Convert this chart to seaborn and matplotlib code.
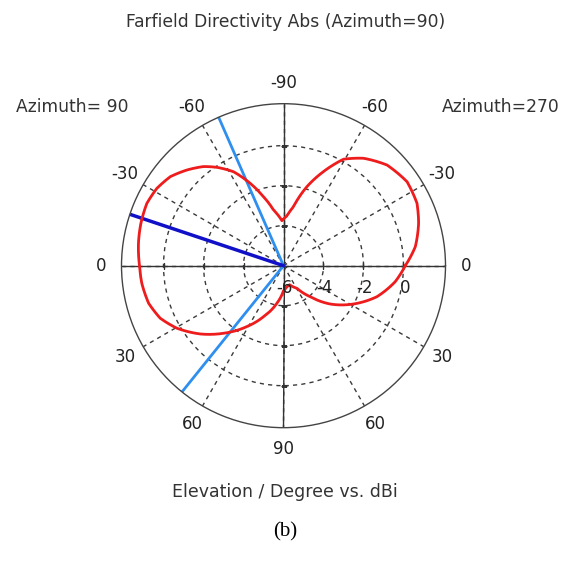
"""
Farfield directivity (elevation cut) as a polar plot.
"""
import numpy as np
import matplotlib
matplotlib.use("Agg")
import matplotlib.pyplot as plt
import seaborn as sns

# pattern: polar angle (deg) and directivity (dBi)
angle_deg = [0, 8.2, 17.4, 25.1, 34.2, 44.2, 53.3, 60.6, 67, 73.5, 80.4,
             86, 92, 100.2, 106.2, 112, 118, 124.1, 128.9, 135.3, 141.8,
             148.6, 155.5, 163.4, 171.2, 180, 187.1, 195.6, 203.1, 210.4,
             219.4, 228.4, 239, 248.6, 260, 270, 279, 287.7, 300.7, 310.7,
             320.6, 331.3, 341.6, 351.8, 360]
gain_dbi = [0.09, 0.66, 1.08, 1.37, 1.47, 1.22, 0.70, 0.11, -0.89, -1.88,
            -3.01, -3.5, -3.75, -3.17, -2.41, -1.56, -0.68, -0.06, 0.37,
            0.80, 1.20, 1.42, 1.51, 1.44, 1.34, 1.20, 1.14, 1.00, 0.70, 0.18,
            -0.62, -1.48, -2.45, -3.26, -4.09, -4.75, -4.93, -5.0, -4.69,
            -3.96, -2.98, -2.01, -1.08, -0.36, 0.09]

main_lobe_deg = 161.5
beam_edges_deg = [113.6, 231.2]

ring_values = [-6, -4, -2, 0]
r_min, r_max = -6, 2.1
theta_ticks = [0, 30, 60, 90, 120, 150, 180, 210, 240, 270, 300, 330]
theta_labels = ["0", "-30", "-60", "-90", "-60", "-30", "0",
                "30", "60", "90", "60", "30"]

sns.set_style("white")
plt.rcParams["font.family"] = ["DejaVu Sans"]
text_col = "#333333"

fig = plt.figure(figsize=(5.67, 5.62), dpi=100)
ax = fig.add_axes([0.2143, 0.2390, 0.5714, 0.5765], projection="polar")
ax.set_ylim(r_min, r_max)

# grid: dashed rings and spokes, solid main axes
ax.set_thetagrids(theta_ticks, theta_labels, fontsize=12, color="#222222")
ax.set_rgrids(ring_values[1:], labels=[])
ax.grid(True, color="#3a3a3a", linestyle=(0, (3, 3)), linewidth=1.0)
ax.tick_params(axis="x", pad=4.5)
ax.spines["polar"].set_color("#444444")
ax.spines["polar"].set_linewidth(1.0)
for a in [0, 90, 180, 270]:
    ax.plot([np.deg2rad(a)] * 2, [r_min, r_max], color="#333333", lw=1.0)

# little ticks on the axes at each ring
for v in ring_values[1:]:
    for a in [0, 90, 180, 270]:
        ax.plot(np.deg2rad(a), v, marker="|" if a in (0, 180) else "_",
                color="#333333", ms=5, mew=1.0)

# radial labels under the horizontal axis
for v in ring_values:
    ax.annotate(str(v), xy=(0, v), xytext=(1, -16), textcoords="offset points",
                ha="center", va="center", fontsize=12, color="#222222")

# beam lines
for a in beam_edges_deg:
    ax.plot([np.deg2rad(a)] * 2, [r_min, r_max], color="#2f8fef", lw=2.0)
ax.plot([np.deg2rad(main_lobe_deg)] * 2, [r_min, r_max], color="#1010c8", lw=2.5)

# pattern
sns.lineplot(x=np.deg2rad(angle_deg), y=gain_dbi, ax=ax, sort=False,
             color="#ee1c1c", lw=2.0, estimator=None)
pattern = ax.lines[-1]
pattern.get_path()._interpolation_steps = 40
ax.set_xlabel("")
ax.set_ylabel("")

fig.text(0.503, 0.961, "Farfield Directivity Abs (Azimuth=90)", ha="center",
         va="center", fontsize=12.3, color=text_col)
fig.text(0.127, 0.81, "Azimuth= 90", ha="center", va="center",
         fontsize=12.3, color=text_col)
fig.text(0.884, 0.81, "Azimuth=270", ha="center", va="center",
         fontsize=12.3, color=text_col)
fig.text(0.503, 0.125, "Elevation / Degree vs. dBi", ha="center",
         va="center", fontsize=12.5, color=text_col)
fig.text(0.503, 0.053, "(b)", ha="center", va="center", fontsize=15,
         family=["Liberation Serif"], color="black")

fig.savefig("out.png", dpi=100)
